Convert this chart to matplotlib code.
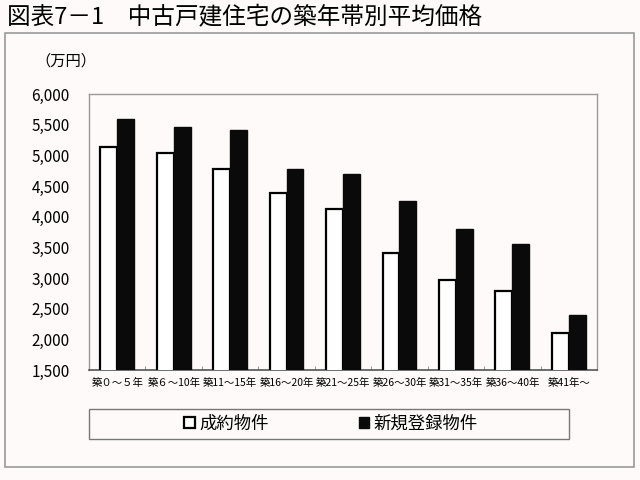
import matplotlib
matplotlib.use("Agg")
import matplotlib.pyplot as plt
import numpy as np
from matplotlib.patches import Rectangle

plt.rcParams['font.family'] = ['Noto Sans CJK JP', 'DejaVu Sans']

# data (万円)
categories = ['築０～５年', '築６～10年', '築11～15年', '築16～20年', '築21～25年',
              '築26～30年', '築31～35年', '築36～40年', '築41年～']
contracted = [5130, 5035, 4775, 4380, 4125, 3415, 2960, 2795, 2100]
new_listings = [5600, 5465, 5410, 4770, 4695, 4250, 3800, 3550, 2395]
y_ticks = [1500, 2000, 2500, 3000, 3500, 4000, 4500, 5000, 5500, 6000]

bg = '#fffafa'
fig = plt.figure(figsize=(6.4, 4.8), dpi=100, facecolor=bg)
ax = fig.add_axes([89 / 640, 1 - 370 / 480, 508 / 640, 276 / 480])
ax.set_facecolor(bg)

x = np.arange(len(categories))
w = 0.3
b1 = ax.bar(x - w / 2, contracted, w, color='white', edgecolor='black', linewidth=1.6,
            label='成約物件', zorder=3)
b2 = ax.bar(x + w / 2, new_listings, w, color='#0a0a0a', edgecolor='#0a0a0a', linewidth=1.0,
            label='新規登録物件', zorder=3)

ax.set_xlim(-0.5, len(categories) - 0.5)
ax.set_ylim(1500, 6000)
ax.set_yticks(y_ticks)
ax.set_yticklabels([f'{v:,}' for v in y_ticks], fontsize=11)
ax.tick_params(axis='y', length=0, pad=14)
ax.set_xticks(x)
ax.set_xticklabels(categories, fontsize=7.5)
ax.tick_params(axis='x', length=0, pad=6)
ax.set_xticks(np.arange(len(categories) + 1) - 0.5, minor=True)
ax.tick_params(axis='x', which='minor', direction='in', length=3, color='#888888')

for s in ['top', 'right', 'left']:
    ax.spines[s].set_color('#999999')
    ax.spines[s].set_linewidth(1.0)
ax.spines['bottom'].set_color('#555555')
ax.spines['bottom'].set_linewidth(1.2)

# titles
fig.text(7 / 640, 1 - 17 / 480, '図表7－1　中古戸建住宅の築年帯別平均価格', fontsize=17,
         ha='left', va='center')
fig.text(35 / 640, 1 - 61 / 480, '（万円）', fontsize=11, ha='left', va='center')

# outer frame and legend box
fig.patches.append(Rectangle((5 / 640, 1 - 467 / 480), 629 / 640, 434 / 480,
                             transform=fig.transFigure, fill=False,
                             edgecolor='#999999', linewidth=1.2))
fig.patches.append(Rectangle((89 / 640, 1 - 439 / 480), 480 / 640, 30 / 480,
                             transform=fig.transFigure, fill=False,
                             edgecolor='#777777', linewidth=1.0))

leg = fig.legend(handles=[b1, b2], loc='center', bbox_to_anchor=(331 / 640, 1 - 424 / 480),
                 ncol=2, frameon=False, fontsize=12.5, handlelength=0.6, handleheight=0.6,
                 handletextpad=0.25, columnspacing=5.2)

fig.savefig('out.png', dpi=100, facecolor=bg)
